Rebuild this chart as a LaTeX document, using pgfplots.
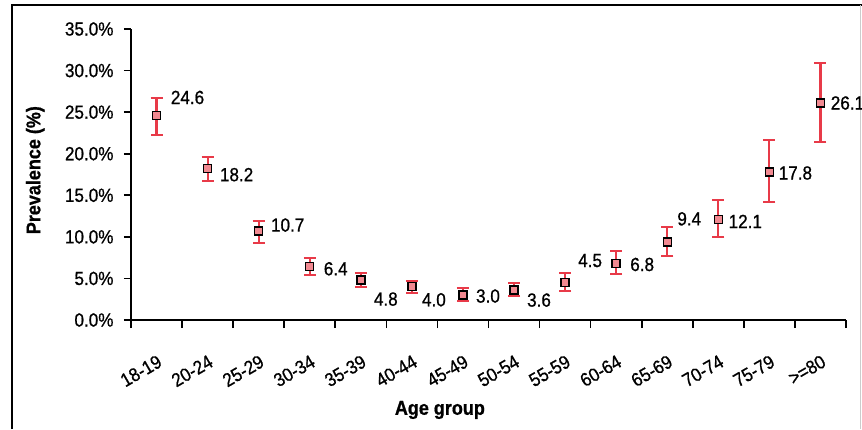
\documentclass[border=0pt]{standalone}
\usepackage{fontspec}
\setmainfont{Liberation Sans}[FakeStretch=0.9, FakeBold=0.8]
\usepackage{pgfplots}
\pgfplotsset{compat=1.18}
\usepackage{pgfplotstable}
\definecolor{errred}{RGB}{232,58,72}

\pgfplotstableread{
x y ep em dx dy lbl
0.5 24.6 2.1 2.4 31 18 24.6
1.5 18.2 1.4 1.5 29 -6 18.2
2.5 10.7 1.2 1.4 29 6 10.7
3.5 6.4 1.0 1.0 26 -2 6.4
4.5 4.8 0.8 0.8 25 -19 4.8
5.5 4.0 0.7 0.8 22 -13 4.0
6.5 3.0 0.8 0.7 25 -1 3.0
7.5 3.6 0.9 0.7 25 -10 3.6
8.5 4.5 1.1 1.0 25 22 4.5
9.5 6.8 1.5 1.3 26 -1 6.8
10.5 9.4 1.8 1.7 22 23 9.4
11.5 12.1 2.3 2.1 27 -2 12.1
12.5 17.8 3.8 3.6 26 -1 17.8
13.5 26.1 4.8 4.7 27 0 26.1
}\data

\begin{document}
\begin{tikzpicture}[x=1pt,y=1pt]
\useasboundingbox (0,0) rectangle (862,429);
\fill[white] (0,0) rectangle (862,429);
\draw[line width=2pt] (12,0) -- (12,424) -- (870,424);
\draw[gray!40] (860,0) -- (860,424);
\begin{axis}[
  at={(131pt,109pt)}, anchor=south west,
  scale only axis, width=715pt, height=291pt,
  xmin=0, xmax=14, ymin=0, ymax=35,
  axis lines*=left,
  axis line style={line width=1.6pt},
  tick align=outside,
  /pgf/number format/assume math mode=true,
  xtick={0.5,1.5,...,13.5},
  major x tick style={draw=none},
  minor xtick={0,1,...,14},
  minor tick length=8pt,
  minor x tick style={line width=1.6pt, black},
  major tick length=7pt,
  y tick style={line width=1.6pt, black},
  xticklabels={18-19,20-24,25-29,30-34,35-39,40-44,45-49,50-54,55-59,60-64,65-69,70-74,75-79,>=80},
  x tick label style={rotate=30, anchor=north east, font=\fontsize{19}{21}\selectfont, xshift=-10pt, yshift=-20pt},
  ytick={0,5,...,35},
  yticklabel={\pgfmathprintnumber[fixed,fixed zerofill,precision=1]{\tick}\%},
  y tick label style={font=\fontsize{19}{21}\selectfont, xshift=-7pt},
  xlabel={\bfseries Age group},
  xlabel style={at={(axis description cs:0.432,0)}, anchor=center, yshift=-90pt, font=\fontsize{20}{22}\selectfont},
  ylabel={\bfseries Prevalence (\%)},
  ylabel style={at={(axis description cs:-0.134,0.515)}, anchor=center, font=\fontsize{20}{22}\selectfont},
  clip=false,
]
\addplot[only marks, mark=square*, mark size=4pt,
  mark options={draw=black, line width=1.4pt, fill=errred!60},
  error bars/.cd, y dir=both, y explicit,
  error bar style={errred, line width=2.2pt},
  error mark options={errred, line width=2pt, mark size=6pt, rotate=90},
  ] table[x=x, y=y, y error plus=ep, y error minus=em] {\data};
\addplot[only marks, mark=none,
  point meta=explicit symbolic,
  visualization depends on={\thisrow{dx}\as\dx},
  visualization depends on={\thisrow{dy}\as\dy},
  nodes near coords={\pgfplotspointmeta},
  nodes near coords style={anchor=center, xshift=\dx pt, yshift=\dy pt, font=\fontsize{19}{21}\selectfont},
  ] table[x=x, y=y, meta=lbl] {\data};
\end{axis}
\end{tikzpicture}
\end{document}
